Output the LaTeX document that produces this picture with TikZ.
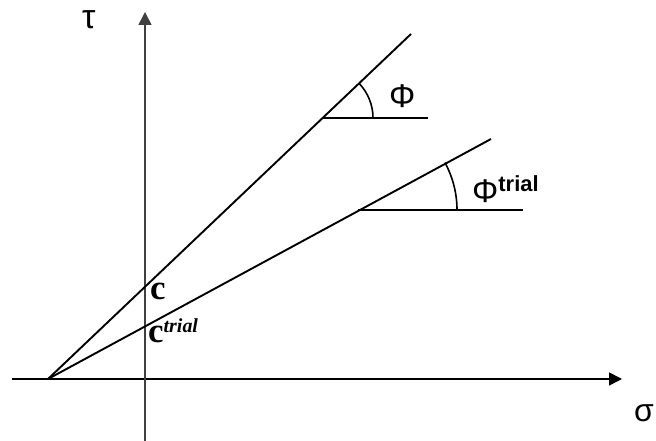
\documentclass[tikz,border=0pt]{standalone}
\usepackage{fontspec}
\setmainfont{Liberation Serif}
\newfontfamily\greekfont{Liberation Sans}
\usepackage{tikz}
\usetikzlibrary{arrows.meta}

\begin{document}
\begin{tikzpicture}[
  x=1bp, y=1bp,
  axis/.style={-{Triangle[length=13bp,width=13bp]}, line width=1.5bp},
  envelope/.style={line width=1.9bp},
  anglearc/.style={line width=1.6bp},
  greek/.style={inner sep=0pt, anchor=base west, font=\greekfont\fontsize{33}{35}\selectfont},
  coh/.style={inner sep=0pt, anchor=base west, font=\fontsize{35}{37}\selectfont\bfseries}
]
\useasboundingbox (0,0) rectangle (656,441);

% axes
\coordinate (xstart) at (12,62);
\coordinate (xend)   at (622,62);
\coordinate (ystart) at (145,0);
\coordinate (yend)   at (145,429);
\draw[axis] (xstart) -- (xend);
\draw[axis, black!75] (ystart) -- (yend);
\node[greek, font=\greekfont\fontsize{34}{36}\selectfont, text height=0.55em] (tau) at (82,412) {τ};
\node[greek, font=\greekfont\fontsize{32}{34}\selectfont] (sigma) at (634,19) {σ};

% failure envelopes
\coordinate (O)      at (48,62);
\coordinate (peak)   at (411,407);
\coordinate (trpeak) at (491,302);
\draw[envelope] (O) -- (peak);
\draw[envelope] (O) -- (trpeak);

% friction angles
\coordinate (v1) at (323,323);
\coordinate (h1) at (428,323);
\coordinate (v2) at (358,231);
\coordinate (h2) at (523,231);
\draw[envelope] (v1) -- (h1);
\draw[envelope] (v2) -- (h2);
\draw[anglearc] ([shift={(43.6:50)}]v1) arc[start angle=43.6, end angle=0, radius=50];
\draw[anglearc] ([shift={(28.6:99)}]v2) arc[start angle=28.6, end angle=0, radius=99];
\node[greek] (phi)   at (389,333) {Φ};
\node[greek] (phitr) at (472,238) {Φ\raisebox{11bp}{\fontsize{22}{23}\selectfont\bfseries trial}};

% cohesion
\node[coh] (c)   at (150,141) {c};
\node[coh] (ctr) at (148,98)  {c\raisebox{10bp}{\fontsize{20}{21}\selectfont\bfseries\itshape trial}};
\end{tikzpicture}
\end{document}
